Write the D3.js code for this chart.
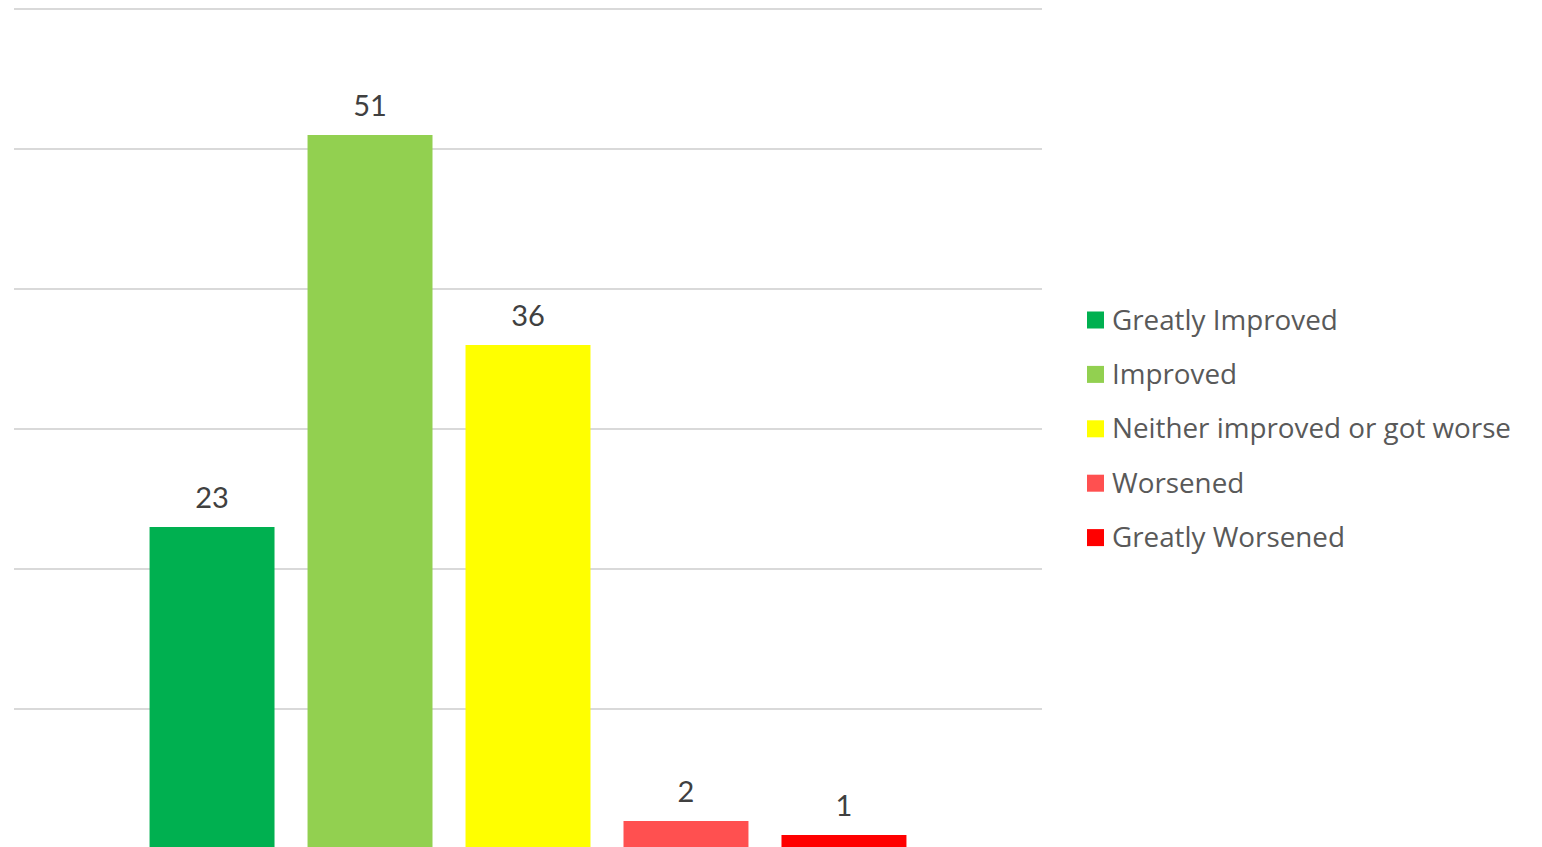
<!DOCTYPE html>
<html>
<head>
<meta charset="utf-8">
<script src="https://cdn.jsdelivr.net/npm/d3@7"></script>
<style>
  html, body { margin: 0; padding: 0; background: #fff; overflow: hidden; }
</style>
</head>
<body>
<div id="chart"></div>
<script>
// data
var series = ['Greatly Improved', 'Improved', 'Neither improved or got worse', 'Worsened', 'Greatly Worsened'];
var values = [23, 51, 36, 2, 1];
var colors = ['#00B050', '#92D050', '#FFFF00', '#FF5050', '#FF0000'];
var ticks = [0, 10, 20, 30, 40, 50, 60];

var width = 1542,
    height = 847;

// plot area
var plot = { left: 14, right: 1042, top: 9, bottom: 849 };

var svg = d3.select('#chart')
    .append('svg')
    .attr('width', width)
    .attr('height', height);

var x = d3.scaleBand()
    .domain(series)
    .range([plot.left, plot.right])
    .paddingInner(0.209)
    .paddingOuter(0.858);

var y = d3.scaleLinear()
    .domain([0, 60])
    .range([plot.bottom, plot.top]);

// gridlines
svg.append('g')
    .selectAll('line')
    .data(ticks)
    .enter()
    .append('line')
    .attr('x1', plot.left)
    .attr('x2', plot.right)
    .attr('y1', d => y(d))
    .attr('y2', d => y(d))
    .attr('stroke', '#d9d9d9')
    .attr('stroke-width', 2);

// bars
svg.append('g')
    .selectAll('rect')
    .data(series)
    .enter()
    .append('rect')
    .attr('x', d => x(d))
    .attr('y', (d, i) => y(values[i]))
    .attr('width', x.bandwidth())
    .attr('height', (d, i) => y(0) - y(values[i]))
    .attr('fill', (d, i) => colors[i]);

// value labels
svg.append('g')
    .selectAll('text')
    .data(series)
    .enter()
    .append('text')
    .attr('x', d => x(d) + x.bandwidth() / 2)
    .attr('y', (d, i) => y(values[i]) - 19)
    .attr('text-anchor', 'middle')
    .attr('font-family', 'Lato, "Open Sans", sans-serif')
    .attr('font-size', 29)
    .attr('fill', '#404040')
    .text((d, i) => values[i]);

// legend
var legend = svg.append('g')
    .attr('transform', 'translate(1087, 320)');

var item = legend.selectAll('g')
    .data(series)
    .enter()
    .append('g')
    .attr('transform', (d, i) => 'translate(0,' + (i * 54.4) + ')');

item.append('rect')
    .attr('x', 0)
    .attr('y', -8.5)
    .attr('width', 17)
    .attr('height', 17)
    .attr('fill', (d, i) => colors[i]);

item.append('text')
    .attr('x', 25)
    .attr('y', 9.5)
    .attr('font-family', '"Open Sans", "Noto Sans", sans-serif')
    .attr('font-size', 27.8)
    .attr('fill', '#595959')
    .text(d => d);
</script>
</body>
</html>
